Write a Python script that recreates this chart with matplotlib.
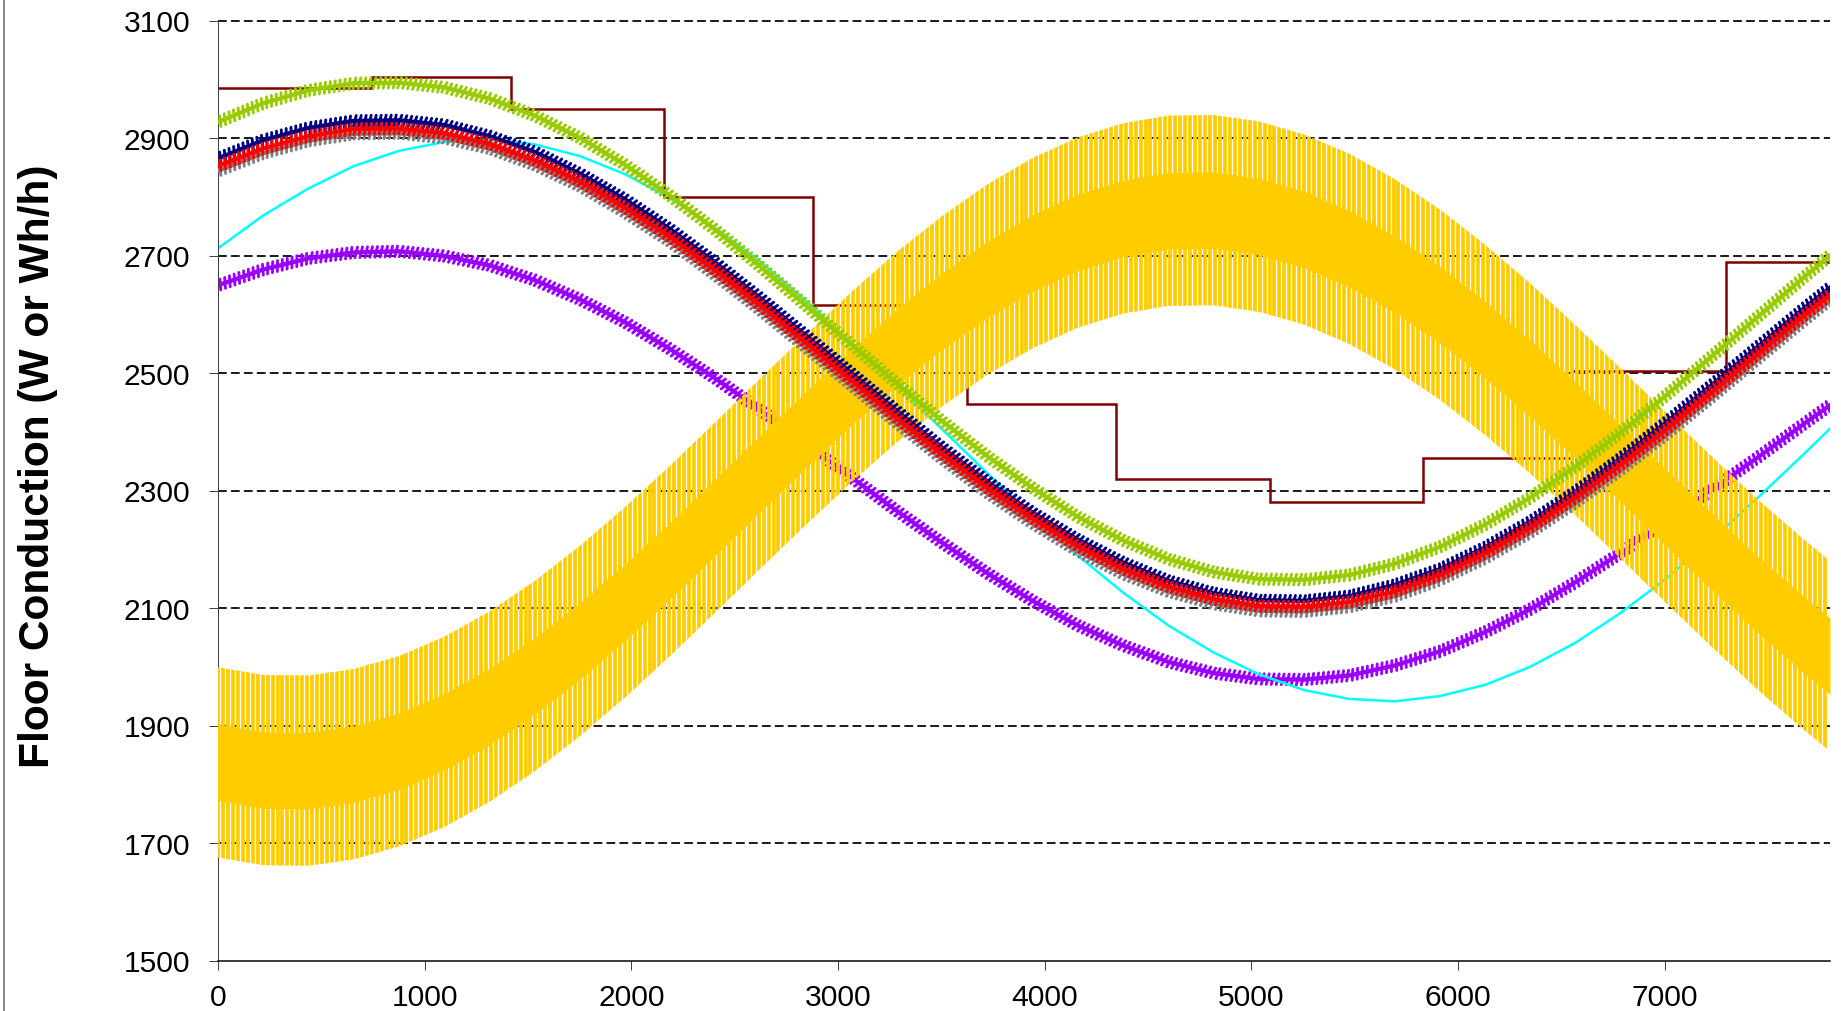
import matplotlib
matplotlib.use("Agg")
import numpy as np
import matplotlib.pyplot as plt
from matplotlib import patheffects as pe
from matplotlib.collections import LineCollection
from matplotlib.lines import Line2D

hours = [0, 219, 438, 657, 876, 1095, 1314, 1533, 1752, 1971, 2190, 2409,
         2628, 2847, 3066, 3285, 3504, 3723, 3942, 4161, 4380, 4599, 4818, 5037,
         5256, 5475, 5694, 5913, 6132, 6351, 6570, 6789, 7008, 7227, 7446, 7665, 7800]

green = [2928, 2960, 2982, 2994, 2995, 2987, 2968, 2939, 2901, 2855, 2802, 2744,
         2681, 2615, 2549, 2483, 2419, 2359, 2305, 2256, 2216, 2184, 2162, 2150,
         2149, 2157, 2176, 2205, 2243, 2289, 2342, 2400, 2463, 2529, 2595, 2661, 2701]
navy = [2866, 2897, 2918, 2930, 2931, 2923, 2904, 2877, 2840, 2796, 2745, 2688,
        2627, 2564, 2500, 2436, 2374, 2316, 2263, 2217, 2178, 2147, 2126, 2114,
        2113, 2121, 2140, 2167, 2204, 2248, 2299, 2356, 2417, 2480, 2544, 2608, 2646]
red = [2853, 2883, 2904, 2916, 2917, 2909, 2891, 2863, 2827, 2782, 2732, 2675,
       2615, 2552, 2488, 2424, 2363, 2305, 2253, 2206, 2167, 2137, 2116, 2104,
       2103, 2111, 2129, 2157, 2194, 2238, 2289, 2345, 2405, 2468, 2532, 2596, 2634]
gray = [2845, 2875, 2896, 2908, 2909, 2901, 2883, 2855, 2819, 2774, 2724, 2667,
        2607, 2544, 2480, 2416, 2355, 2297, 2245, 2198, 2159, 2129, 2108, 2096,
        2095, 2103, 2121, 2149, 2186, 2230, 2281, 2337, 2397, 2460, 2524, 2588, 2626]
purple = [2650, 2677, 2696, 2706, 2708, 2700, 2684, 2659, 2626, 2587, 2541, 2491,
          2437, 2380, 2323, 2266, 2212, 2160, 2113, 2071, 2037, 2009, 1990, 1980,
          1979, 1986, 2003, 2027, 2060, 2099, 2145, 2195, 2249, 2302, 2356, 2412, 2446]
cyan = [2713, 2769, 2815, 2853, 2879, 2894, 2898, 2890, 2870, 2839, 2798, 2747,
        2689, 2623, 2553, 2480, 2405, 2330, 2258, 2190, 2127, 2071, 2025, 1988,
        1961, 1946, 1942, 1951, 1970, 2001, 2042, 2093, 2151, 2217, 2287, 2360, 2406]

# daily max / min of the strongly oscillating series
yellow_hi = [2000, 1987, 1986, 1997, 2019, 2052, 2095, 2147, 2207, 2273, 2344, 2418,
             2493, 2567, 2639, 2707, 2768, 2822, 2867, 2902, 2926, 2939, 2940, 2929,
             2907, 2874, 2831, 2779, 2719, 2653, 2582, 2508, 2433, 2359, 2287, 2220, 2181]
yellow_lo = [1676, 1663, 1662, 1673, 1695, 1728, 1771, 1823, 1883, 1949, 2020, 2094,
             2169, 2243, 2315, 2383, 2444, 2498, 2543, 2578, 2602, 2615, 2616, 2605,
             2583, 2550, 2507, 2455, 2395, 2329, 2258, 2184, 2109, 2035, 1963, 1896, 1857]

# monthly values (step line)
month_edges = [0, 744, 1416, 2160, 2880, 3624, 4344, 5088, 5832, 6552, 7296, 8016]
monthly = [2986, 3004, 2950, 2800, 2616, 2448, 2320, 2282, 2356, 2504, 2690]

YELLOW = '#FFCC00'

plt.rcParams['font.family'] = ['Liberation Sans', 'DejaVu Sans']

DPI = 90
W, H = 1841, 1011
fig = plt.figure(figsize=((W + 0.01) / DPI, (H + 0.01) / DPI), dpi=DPI)
ax = fig.add_axes([218 / W, 50 / H, (1830 - 218) / W, (961 - 21) / H])

ax.set_xlim(0, 7800)
ax.set_ylim(1500, 3100)
ax.set_xticks(range(0, 7001, 1000))
ax.set_yticks(range(1500, 3101, 200))

for y in range(1700, 3101, 200):
    ax.axhline(y, color='black', lw=1.4, ls=(0, (5, 2.4)), zorder=1, clip_on=False)

for s in ['top', 'right']:
    ax.spines[s].set_visible(False)
ax.spines['left'].set_color('#404040')
ax.spines['left'].set_linewidth(0.8)
ax.spines['bottom'].set_color('black')
ax.spines['bottom'].set_linewidth(1.2)

ax.tick_params(direction='out', length=7.2, width=0.8, color='#404040', labelsize=24)
ax.tick_params(axis='y', pad=15)
ax.tick_params(axis='x', pad=11)


def rope(lw):
    return [pe.TickedStroke(angle=75, spacing=4, length=1.1, linewidth=lw, capstyle='round'),
            pe.TickedStroke(angle=-105, spacing=4, length=1.1, linewidth=lw, capstyle='round'),
            pe.Normal()]


# behind the yellow band
ax.plot(hours, purple, color='#9900FF', lw=3.4, zorder=2, path_effects=rope(2.3))
ax.plot(hours, cyan, color='#00FFFF', lw=2.0, zorder=2)
ax.stairs(monthly, month_edges, baseline=None, color='#800000', lw=2.0, zorder=3)

# hourly yellow series: one stripe per day, clipped to the daily max/min band
hi = np.array(yellow_hi)
lo = np.array(yellow_lo)
mid = (hi + lo) / 2
band = ax.fill_between(hours, lo, hi, facecolor='none', linewidth=0)
days = np.arange(0, 7800, 24)
stripes = LineCollection([[(d, 1500), (d, 3100)] for d in days], colors=YELLOW,
                         linewidths=3.0, zorder=4)
ax.add_collection(stripes)
stripes.set_clip_path(band.get_paths()[0], ax.transData)
ax.fill_between(hours, mid - 65, mid + 65, color=YELLOW, linewidth=0, zorder=4)

# on top of the yellow band
for vals, col in [(gray, '#808080'), (navy, '#000080'), (red, '#FF0000'),
                  (green, '#99CC00')]:
    ax.plot(hours, vals, color=col, lw=3.4, zorder=5, path_effects=rope(2.3))

fig.text(38 / W, 1 - 466 / H, 'Floor Conduction (W or Wh/h)', rotation=90,
         fontsize=34, fontweight='bold', ha='center', va='center')
fig.add_artist(Line2D([3.5 / W] * 2, [0, 1], color='#8c8c8c', lw=1.6))

fig.savefig('out.png', dpi=DPI)
